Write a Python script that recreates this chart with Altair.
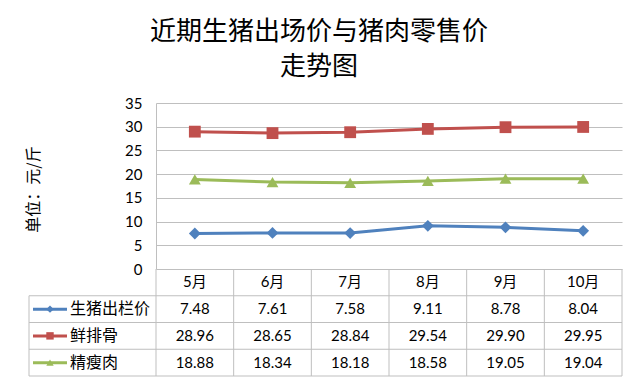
import altair as alt
import pandas as pd

months = ["5月", "6月", "7月", "8月", "9月", "10月"]
series = ["生猪出栏价", "鲜排骨", "精瘦肉"]
hog = [7.48, 7.61, 7.58, 9.11, 8.78, 8.04]
ribs = [28.96, 28.65, 28.84, 29.54, 29.90, 29.95]
lean = [18.88, 18.34, 18.18, 18.58, 19.05, 19.04]
y_ticks = [0, 5, 10, 15, 20, 25, 30, 35]
colors = ["#4f81bd", "#c0504d", "#9bbb59"]
shapes = ["diamond", "square", "triangle-up"]

title_lines = ["近期生猪出场价与猪肉零售价", "走势图"]
y_title = "单位：元/斤"

values = {series[0]: hog, series[1]: ribs, series[2]: lean}
rows = []
for s in series:
    for m, v in zip(months, values[s]):
        rows.append({"series": s, "month": m, "value": v, "label": f"{v:.2f}"})
df = pd.DataFrame(rows)
df_series = pd.DataFrame({"series": series, "row": series})
df_last = pd.DataFrame({"series": [series[-1]], "row": [series[-1]]})
df_months = pd.DataFrame({"month": months, "row": ["header"] * len(months)})
df_lastm = pd.DataFrame({"month": [months[-1]]})

PLOT_W = 466
PLOT_H = 166
TABLE_H = 107
TOTAL_H = PLOT_H + TABLE_H
LEFT_EDGE = -127
GRID = "#bfbfbf"
NUMFONT = "Lato, Noto Sans CJK SC"
CJK = "Noto Sans CJK SC"

xs = alt.Scale(type="band", domain=months, padding=0)
ys_line = alt.Scale(domain=[0, 35], range=[PLOT_H, 0], nice=False, zero=True)
ys_tab = alt.Scale(type="band", domain=["header"] + series, range=[PLOT_H, TOTAL_H], padding=0)
cs = alt.Scale(domain=series, range=colors)
ss = alt.Scale(domain=series, range=shapes)

yaxis = alt.Axis(
    values=y_ticks, grid=True, gridColor=GRID, domainColor=GRID, ticks=False,
    labelPadding=14, labelFontSize=15, labelFont="Lato", labelColor="black",
    title=y_title, titleFont=CJK, titleFontSize=16, titleFontWeight="normal",
    titleColor="black", titleX=-123, titleY=PLOT_H / 2 + 3, titleAngle=270,
    titleBaseline="middle", titleAlign="center",
)

lines = alt.Chart(df).mark_line(strokeWidth=3).encode(
    x=alt.X("month:N", scale=xs, axis=None),
    y=alt.Y("value:Q", scale=ys_line, axis=yaxis),
    color=alt.Color("series:N", scale=cs, legend=None),
)
points = alt.Chart(df).mark_point(filled=True, opacity=1, size=140).encode(
    x=alt.X("month:N", scale=xs, axis=None),
    y=alt.Y("value:Q", scale=ys_line, axis=None),
    color=alt.Color("series:N", scale=cs, legend=None),
    shape=alt.Shape("series:N", scale=ss, legend=None),
)

# table grid
hrules = alt.Chart(df_series).mark_rule(color=GRID, strokeWidth=1).encode(
    y=alt.Y("row:N", scale=ys_tab, axis=None, bandPosition=0),
    x=alt.value(LEFT_EDGE), x2=alt.value(PLOT_W),
)
hrule_bottom = alt.Chart(df_last).mark_rule(color=GRID, strokeWidth=1).encode(
    y=alt.Y("row:N", scale=ys_tab, axis=None, bandPosition=1),
    x=alt.value(LEFT_EDGE), x2=alt.value(PLOT_W),
)
vrules = alt.Chart(df_months).mark_rule(color=GRID, strokeWidth=1).encode(
    x=alt.X("month:N", scale=xs, axis=None, bandPosition=0),
    y=alt.value(PLOT_H), y2=alt.value(TOTAL_H),
)
vrule_right = alt.Chart(df_lastm).mark_rule(color=GRID, strokeWidth=1).encode(
    x=alt.X("month:N", scale=xs, axis=None, bandPosition=1),
    y=alt.value(PLOT_H), y2=alt.value(TOTAL_H),
)
vrule_left = alt.Chart(df_series.head(1)).mark_rule(color=GRID, strokeWidth=1).encode(
    y=alt.Y("row:N", scale=ys_tab, axis=None, bandPosition=0),
    y2=alt.value(TOTAL_H),
    x=alt.value(LEFT_EDGE),
)

header = alt.Chart(df_months).mark_text(font=NUMFONT, fontSize=15, color="black").encode(
    x=alt.X("month:N", scale=xs, axis=None),
    y=alt.Y("row:N", scale=ys_tab, axis=None),
    text="month:N",
)
cells = alt.Chart(df).mark_text(font=NUMFONT, fontSize=15, color="black").encode(
    x=alt.X("month:N", scale=xs, axis=None),
    y=alt.Y("series:N", scale=ys_tab, axis=None),
    text="label:N",
)
row_labels = alt.Chart(df_series).mark_text(font=CJK, fontSize=16, color="black", align="left").encode(
    x=alt.value(-86),
    y=alt.Y("row:N", scale=ys_tab, axis=None),
    text="series:N",
)
leg_lines = alt.Chart(df_series).mark_rule(strokeWidth=3).encode(
    x=alt.value(-123), x2=alt.value(-89),
    y=alt.Y("row:N", scale=ys_tab, axis=None),
    color=alt.Color("series:N", scale=cs, legend=None),
)
leg_points = alt.Chart(df_series).mark_point(filled=True, opacity=1, size=55).encode(
    x=alt.value(-106),
    y=alt.Y("row:N", scale=ys_tab, axis=None),
    color=alt.Color("series:N", scale=cs, legend=None),
    shape=alt.Shape("series:N", scale=ss, legend=None),
)

chart = alt.layer(
    lines, points, hrules, hrule_bottom, vrules, vrule_right, vrule_left,
    header, cells, row_labels, leg_lines, leg_points,
).resolve_scale(y="independent").properties(
    width=PLOT_W, height=TOTAL_H,
    title=alt.TitleParams(
        text=title_lines, font=CJK, fontSize=26, fontWeight="normal", color="black",
        anchor="middle", frame="group", dx=-70, offset=16, lineHeight=35,
    ),
    autosize=alt.AutoSizeParams(type="none"),
    padding={"left": 148, "top": 95, "right": 10, "bottom": 2},
    background="white",
).configure_view(stroke=None)

chart.save("out.html", embed_options={"renderer": "svg", "actions": False})
